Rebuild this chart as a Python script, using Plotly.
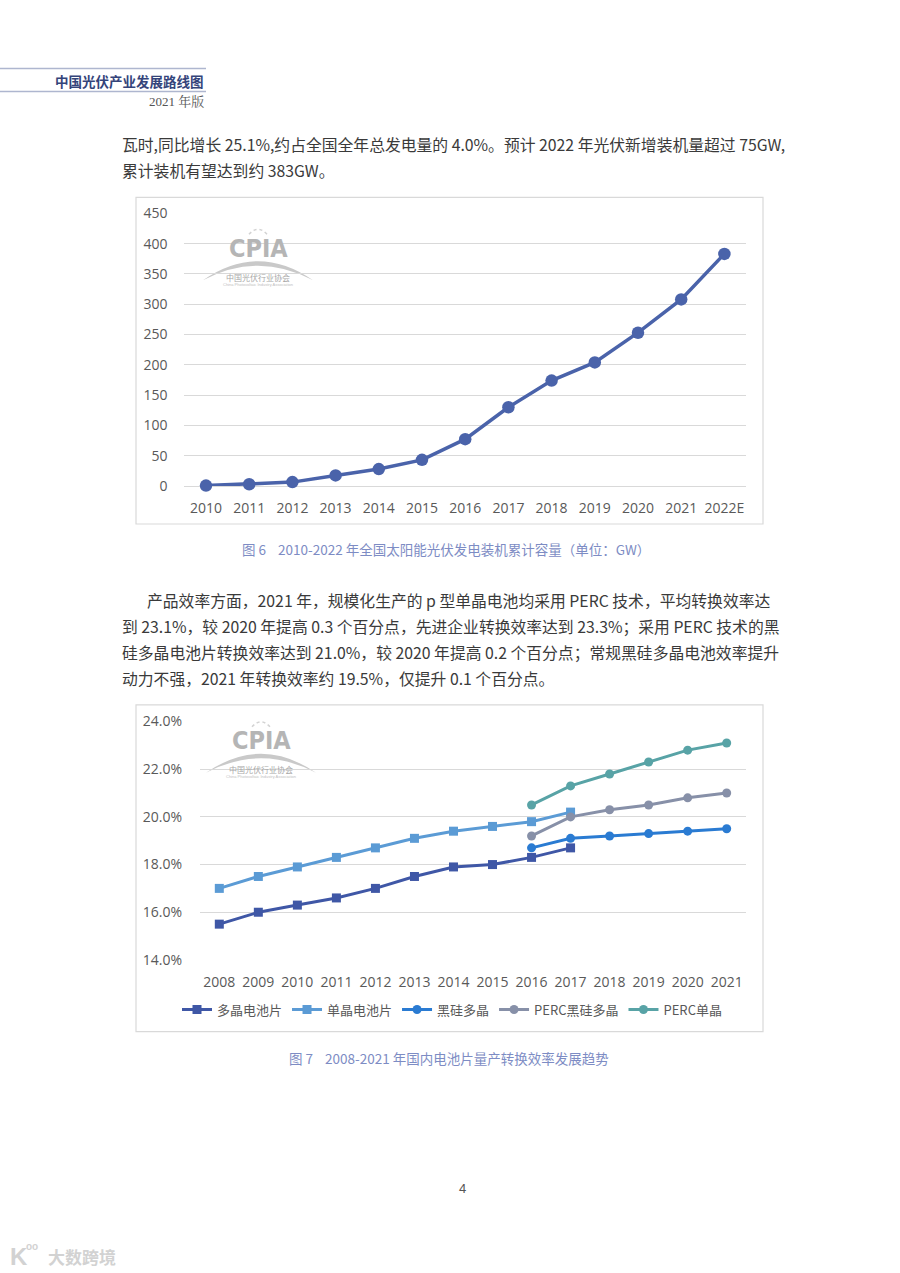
import plotly.graph_objects as go

# ---------------- data ----------------
years1 = ["2010", "2011", "2012", "2013", "2014", "2015", "2016",
          "2017", "2018", "2019", "2020", "2021", "2022E"]
capacity = [0.8, 3.0, 6.5, 17.5, 28.0, 43.2, 77.4, 130.0, 174.0, 204.0, 253.0, 308.0, 383.0]

years2 = ["2008", "2009", "2010", "2011", "2012", "2013", "2014",
          "2015", "2016", "2017", "2018", "2019", "2020", "2021"]
poly_years = years2[:10]
poly_eff = [15.5, 16.0, 16.3, 16.6, 17.0, 17.5, 17.9, 18.0, 18.3, 18.7]
mono_years = years2[:10]
mono_eff = [17.0, 17.5, 17.9, 18.3, 18.7, 19.1, 19.4, 19.6, 19.8, 20.2]
bsp_years = years2[8:]
bsp_eff = [18.7, 19.1, 19.2, 19.3, 19.4, 19.5]
perc_bsp_years = years2[8:]
perc_bsp_eff = [19.2, 20.0, 20.3, 20.5, 20.8, 21.0]
perc_mono_years = years2[8:]
perc_mono_eff = [20.5, 21.3, 21.8, 22.3, 22.8, 23.1]

series2 = [
    ("多晶电池片", poly_years, poly_eff, "#3f57a6", "square"),
    ("单晶电池片", mono_years, mono_eff, "#5b9bd5", "square"),
    ("黑硅多晶", bsp_years, bsp_eff, "#2a7bd2", "circle"),
    ("PERC黑硅多晶", perc_bsp_years, perc_bsp_eff, "#8790a8", "circle"),
    ("PERC单晶", perc_mono_years, perc_mono_eff, "#58a3a6", "circle"),
]

# ---------------- helpers ----------------
W, H = 900, 1273
OFF, SC = 8.5, 0.986   # compensation for the capture's vertical mapping
def px(x):
    return x / W
def py(y):
    return 1 - ((y - OFF) / SC) / H

TICK_FONT = dict(family="Open Sans, Noto Sans CJK SC", size=14, color="#595959")
GRID = "#d9d9d9"

fig = go.Figure()

# chart 1
fig.add_trace(go.Scatter(
    x=years1, y=capacity, mode="lines+markers",
    line=dict(color="#4a63aa", width=3.5),
    marker=dict(size=12.5, color="#4a63aa"),
    cliponaxis=False, showlegend=False, xaxis="x", yaxis="y"))

# chart 2
for name, xs, ys, col, sym in series2:
    fig.add_trace(go.Scatter(
        x=xs, y=ys, mode="lines+markers", name=name,
        line=dict(color=col, width=3),
        marker=dict(size=9, color=col, symbol=sym),
        cliponaxis=False, xaxis="x2", yaxis="y2"))

fig.update_layout(
    width=W, height=H, margin=dict(l=0, r=0, t=0, b=0),
    paper_bgcolor="white", plot_bgcolor="white",
    xaxis=dict(domain=[px(184.4), px(746)], type="category",
               categoryorder="array", categoryarray=years1,
               range=[-0.5, 12.5], showgrid=False, showline=False, zeroline=False,
               ticks="outside", ticklen=9, tickcolor="rgba(0,0,0,0)",
               tickfont=TICK_FONT, fixedrange=True),
    yaxis=dict(domain=[py(485), py(212)], range=[0, 450], dtick=50,
               showgrid=True, gridcolor=GRID, gridwidth=1,
               zeroline=True, zerolinecolor=GRID, zerolinewidth=1, showline=False,
               ticks="outside", ticklen=13, tickcolor="rgba(0,0,0,0)",
               tickfont=TICK_FONT, fixedrange=True),
    xaxis2=dict(domain=[px(199.8), px(746.2)], type="category",
                categoryorder="array", categoryarray=years2,
                range=[-0.5, 13.5], showgrid=False, showline=False, zeroline=False,
                ticks="outside", ticklen=9, tickcolor="rgba(0,0,0,0)",
                tickfont=TICK_FONT, anchor="y2", fixedrange=True),
    yaxis2=dict(domain=[py(959.3), py(720.7)], range=[14, 24], dtick=2,
                tickformat=".1f", ticksuffix="%",
                showgrid=True, gridcolor=GRID, gridwidth=1,
                zeroline=False, showline=False,
                ticks="outside", ticklen=14, tickcolor="rgba(0,0,0,0)",
                tickfont=TICK_FONT, anchor="x2", fixedrange=True),
    legend=dict(orientation="h", x=px(452), xanchor="center", y=py(1009), yanchor="middle",
                font=dict(family="Noto Sans CJK SC", size=13, color="#595959"),
                itemwidth=30, bgcolor="rgba(0,0,0,0)"),
)

shapes = []
# chart frames
for (x0, y0, x1, y1) in [(136, 196, 763, 523), (136, 704, 763, 1031)]:
    shapes.append(dict(type="rect", xref="paper", yref="paper",
                       x0=px(x0), x1=px(x1), y0=py(y1), y1=py(y0),
                       line=dict(color="#d9d9d9", width=1.2), fillcolor="rgba(0,0,0,0)",
                       layer="below"))
# header lines
for yy in (67, 90):
    shapes.append(dict(type="line", xref="paper", yref="paper",
                       x0=0, x1=px(206), y0=py(yy), y1=py(yy),
                       line=dict(color="#aeb6cf", width=1.5)))

annotations = []

def logo(cx, cy):
    # CPIA watermark logo; cx, cy = centre of the "CPIA" letters in page pixels
    x0, x1, by = cx - 55, cx + 55, cy + 32
    path = (f"M {px(x0)},{py(by)} Q {px(cx)},{py(by - 38)} {px(x1)},{py(by)} "
            f"Q {px(cx)},{py(by - 29)} {px(x0)},{py(by)} Z")
    shapes.append(dict(type="path", xref="paper", yref="paper", path=path,
                       fillcolor="#c9c9c9", line=dict(width=0), layer="below"))
    shapes.append(dict(type="path", xref="paper", yref="paper",
                       path=(f"M {px(cx-9)},{py(cy-14)} Q {px(cx)},{py(cy-24)} {px(cx+9)},{py(cy-14)}"),
                       line=dict(color="#d3d3d3", width=1.5, dash="dot"), layer="below"))
    annotations.append(dict(text="<b>CPIA</b>", x=px(cx), y=py(cy), xref="paper", yref="paper",
                            showarrow=False, xanchor="center", yanchor="middle",
                            font=dict(family="DejaVu Sans Condensed, Liberation Sans", size=25,
                                      color="#b5b5b5")))
    annotations.append(dict(text="中国光伏行业协会", x=px(cx), y=py(cy + 29), xref="paper", yref="paper",
                            showarrow=False, xanchor="center", yanchor="middle",
                            font=dict(family="Noto Sans CJK SC", size=8, color="#a8a8a8")))
    annotations.append(dict(text="China Photovoltaic Industry Association", x=px(cx), y=py(cy + 36),
                            xref="paper", yref="paper", showarrow=False, xanchor="center",
                            yanchor="middle",
                            font=dict(family="Liberation Sans", size=4, color="#c0c0c0")))

logo(258, 247)
logo(261, 740)

def txt(s, x, y, size=15.8, color="#3a3a3a", anchor="left", family="Noto Sans CJK SC"):
    annotations.append(dict(text=s, x=px(x), y=py(y), xref="paper", yref="paper",
                            showarrow=False, xanchor=anchor, yanchor="middle",
                            font=dict(family=family, size=size, color=color)))

# header
txt("<b>中国光伏产业发展路线图</b>", 206, 80, size=13.5, color="#34447a", anchor="right")
txt("2021 年版", 206, 100, size=13, color="#555555", anchor="right",
    family="Liberation Serif, Noto Serif CJK SC, Noto Sans CJK SC")

# body text
txt("瓦时,同比增长 25.1%,约占全国全年总发电量的 4.0%。预计 2022 年光伏新增装机量超过 75GW,", 120, 143)
txt("累计装机有望达到约 383GW。", 120, 169)

txt("产品效率方面，2021 年，规模化生产的 p 型单晶电池均采用 PERC 技术，平均转换效率达", 145, 600)
txt("到 23.1%，较 2020 年提高 0.3 个百分点，先进企业转换效率达到 23.3%；采用 PERC 技术的黑", 120, 626)
txt("硅多晶电池片转换效率达到 21.0%，较 2020 年提高 0.2 个百分点；常规黑硅多晶电池效率提升", 120, 652)
txt("动力不强，2021 年转换效率约 19.5%，仅提升 0.1 个百分点。", 120, 678)

# captions
CAP = "#7d8cc4"
txt("图 6 &nbsp;&nbsp; 2010-2022 年全国太阳能光伏发电装机累计容量（单位：GW）", 446, 548,
    size=13.5, color=CAP, anchor="center")
txt("图 7 &nbsp;&nbsp; 2008-2021 年国内电池片量产转换效率发展趋势", 449, 1057,
    size=13.5, color=CAP, anchor="center")

# page number
txt("4", 462, 1188, size=13, color="#555555", anchor="center", family="Liberation Sans")

# bottom-left watermark
txt("<b>K</b>", 8, 1256, size=24, color="#d2d2d2", family="Liberation Sans")
txt("<b>oo</b>", 24, 1246, size=10, color="#d2d2d2", family="Liberation Sans")
txt("<b>大数跨境</b>", 46, 1256, size=17, color="#d2d2d2")

fig.update_layout(shapes=shapes, annotations=annotations)

fig.write_html("out.html", config={"displayModeBar": False},
               post_script="document.body.style.margin='0';document.body.style.overflow='hidden';")
